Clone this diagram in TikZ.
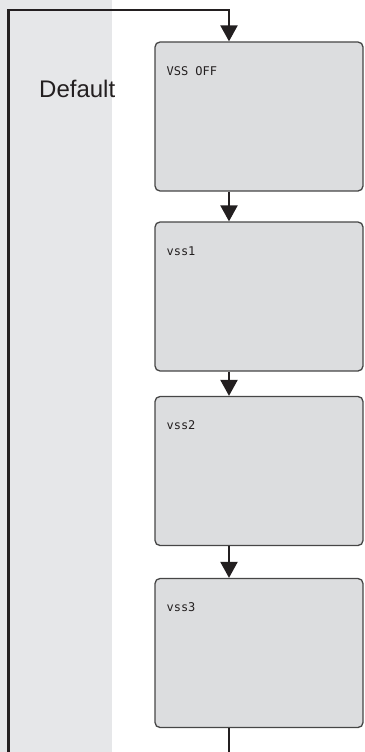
\documentclass[tikz,border=0pt]{standalone}
\usepackage{fontspec}
\setmainfont{Liberation Sans}
\newfontfamily\vssfont{DejaVu Sans Mono}
\usetikzlibrary{arrows.meta,positioning}
\definecolor{bandgray}{RGB}{230,231,233}
\definecolor{boxgray}{RGB}{220,221,223}
\definecolor{edgegray}{RGB}{70,70,70}
\definecolor{flowline}{RGB}{35,31,32}

\begin{document}
\begin{tikzpicture}[x=1pt,y=-1pt,
    vssbox/.style={draw=edgegray,fill=boxgray,line width=1.3pt,rounded corners=5pt,minimum width=208pt,minimum height=149pt,inner sep=0pt},
    vsslabel/.style={anchor=base west,inner sep=0pt,font=\vssfont\fontsize{12}{14}\selectfont},
    flow/.style={draw=flowline,line width=2.3pt},
    >={Triangle[length=16pt,width=17pt]}
]
\useasboundingbox (0,0) rectangle (364,752);
\fill[bandgray] (0,0) rectangle (112,752);
\node[anchor=base west,inner sep=0pt,font=\fontsize{24}{28}\selectfont,text=flowline] (dflt) at (39,97) {Default};

% the four states
\node[vssbox] (off) at (259,116.5) {};
\node[vssbox] (s1) at (259,296.5) {};
\node[vssbox] (s2) at (259,471) {};
\node[vssbox] (s3) at (259,653) {};
\foreach \n/\t in {off/VSS OFF, s1/vss1, s2/vss2, s3/vss3} {
    \node[vsslabel,text=flowline] (\n-txt) at ([shift={(12,34)}]\n.north west) {\t};
}

% connectors
\coordinate (topr) at (229,10);
\coordinate (topl) at (8.5,10);
\coordinate (botl) at (8.5,752);
\coordinate (botr) at (229,752);
\draw[flow] (s3.south -| botr) -- (botr);
\draw[flow,->] (botl) -- (topl) -- (topr) -- (off.north -| topr);
\draw[flow,->] (off.south -| topr) -- (s1.north -| topr);
\draw[flow,->] (s1.south -| topr) -- (s2.north -| topr);
\draw[flow,->] (s2.south -| topr) -- (s3.north -| topr);
\end{tikzpicture}
\end{document}
